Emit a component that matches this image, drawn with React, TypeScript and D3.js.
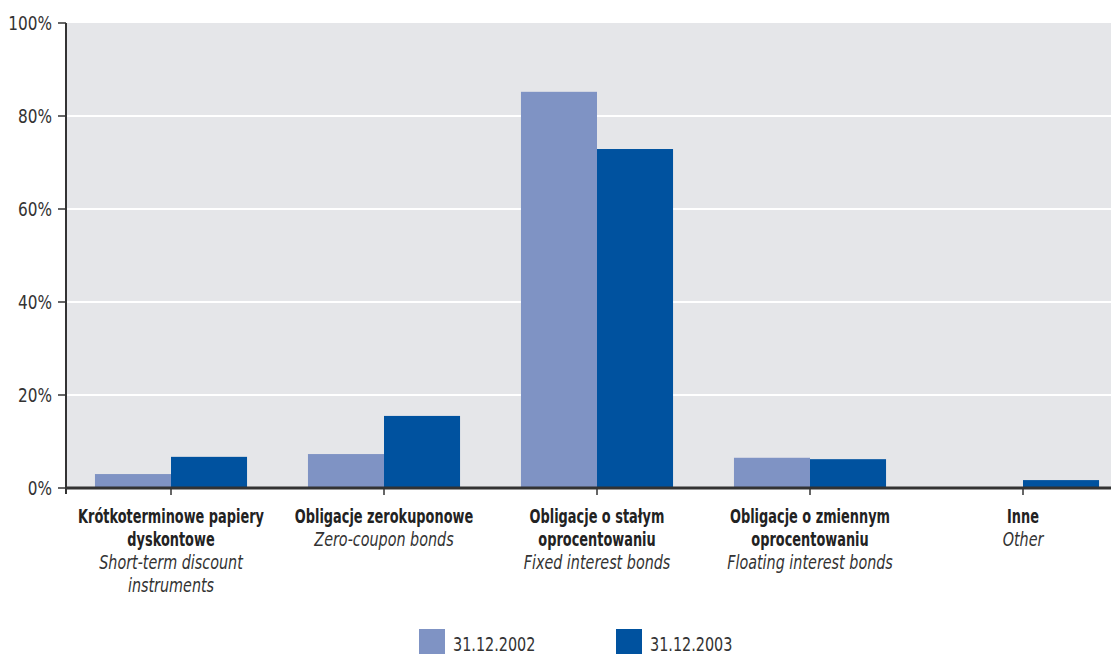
import React from "react";
import * as d3 from "d3";

const categoriesPl = [
  ["Krótkoterminowe papiery", "dyskontowe"],
  ["Obligacje zerokuponowe"],
  ["Obligacje o stałym", "oprocentowaniu"],
  ["Obligacje o zmiennym", "oprocentowaniu"],
  ["Inne"],
];
const categoriesEn = [
  ["Short-term discount", "instruments"],
  ["Zero-coupon bonds"],
  ["Fixed interest bonds"],
  ["Floating interest bonds"],
  ["Other"],
];
const series2002 = [3.0, 7.3, 85.2, 6.5, 0];
const series2003 = [6.7, 15.5, 72.9, 6.2, 1.7];
const seriesNames = ["31.12.2002", "31.12.2003"];
const seriesColors = ["#7f93c4", "#00529f"];
const yTicks = [0, 20, 40, 60, 80, 100];

const W = 1111;
const H = 654;
const left = 66;
const right = 1111;
const top = 23;
const bottom = 488;
const font = "'DejaVu Sans', sans-serif";

function T(props: {
  x: number; y: number; sx: number; size: number; anchor?: string; weight?: string; italic?: boolean; fill?: string; dy?: string; children: React.ReactNode;
}) {
  return (
    <text
      transform={`translate(${props.x},${props.y}) scale(${props.sx},1)`}
      dy={props.dy}
      textAnchor={props.anchor || "start"}
      fontSize={props.size}
      fontWeight={props.weight || "normal"}
      fontStyle={props.italic ? "italic" : "normal"}
      fill={props.fill || "#333"}
      style={{ fontStretch: "condensed" }}
    >
      {props.children}
    </text>
  );
}

export default function App() {
  const ids = categoriesPl.map((_, i) => String(i));
  const x = d3.scaleBand().domain(ids).range([64.5, 1129.5]).paddingInner(0.286).paddingOuter(0.143);
  const y = d3.scaleLinear().domain([0, 100]).range([bottom, top]);
  const bw = x.bandwidth() / 2;
  const series = [series2002, series2003];
  return (
    <svg width={W} height={H} style={{ position: "absolute", left: 0, top: 0, fontFamily: font }}>
      <rect x={left} y={top} width={right - left} height={bottom - top} fill="#e5e6e9" />
      {yTicks.filter((t) => t > 0 && t < 100).map((t) => (
        <line key={t} x1={left} x2={right} y1={y(t)} y2={y(t)} stroke="#ffffff" strokeWidth={2} />
      ))}
      {series.map((s, si) =>
        s.map((v, i) =>
          v > 0 ? (
            <rect
              key={si + "-" + i}
              x={(x(String(i)) as number) + si * bw}
              y={y(v)}
              width={bw}
              height={y(0) - y(v)}
              fill={seriesColors[si]}
            />
          ) : null
        )
      )}
      <line x1={left} x2={left} y1={top} y2={bottom + 6} stroke="#333" strokeWidth={2} />
      <line x1={left - 1} x2={right} y1={bottom} y2={bottom} stroke="#333" strokeWidth={3} />
      {yTicks.map((t) => (
        <g key={t}>
          <line x1={left - 8} x2={left} y1={y(t)} y2={y(t)} stroke="#333" strokeWidth={1.5} />
          <T x={left - 14} y={y(t)} dy="0.36em" anchor="end" size={20} sx={0.85}>
            {t}%
          </T>
        </g>
      ))}
      {ids.map((id, i) => {
        const cx = (x(id) as number) + x.bandwidth() / 2;
        const pl = categoriesPl[i];
        const en = categoriesEn[i];
        return (
          <g key={id}>
            <line x1={cx} x2={cx} y1={bottom} y2={bottom + 7} stroke="#333" strokeWidth={1.5} />
            {pl.map((l, li) => (
              <T key={"p" + li} x={cx} y={523 + li * 23} anchor="middle" size={19} weight="bold" fill="#222" sx={0.755}>
                {l}
              </T>
            ))}
            {en.map((l, li) => (
              <T key={"e" + li} x={cx} y={523 + (pl.length + li) * 23} anchor="middle" size={19} italic sx={0.84}>
                {l}
              </T>
            ))}
          </g>
        );
      })}
      {seriesNames.map((n, i) => (
        <g key={n} transform={`translate(${419 + i * 197},629)`}>
          <rect x={0} y={0} width={26} height={25} fill={seriesColors[i]} />
          <T x={34} y={22} size={20} sx={0.8}>
            {n}
          </T>
        </g>
      ))}
    </svg>
  );
}
